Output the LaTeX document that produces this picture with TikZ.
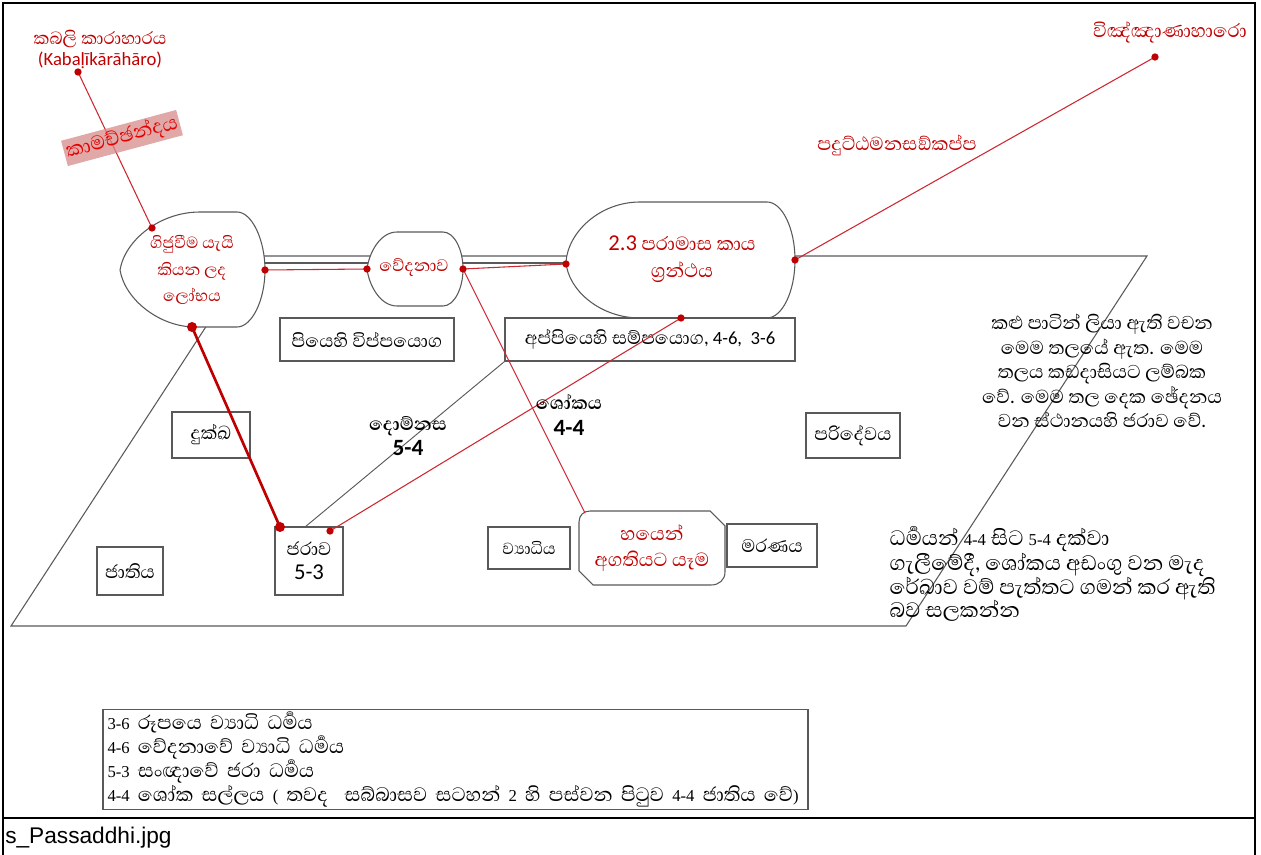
\documentclass[tikz,border=0pt]{standalone}
\usepackage{fontspec}
\setmainfont[Script=Sinhala, Scale=1.4]{Abhaya Libre}
\newfontfamily\latinsans{Carlito}
\newfontfamily\latinserif{Liberation Serif}
\newfontfamily\capfont{Liberation Sans}

\definecolor{lobhared}{RGB}{192,0,0}
\definecolor{linered}{RGB}{205,40,50}
\definecolor{edgegray}{RGB}{89,89,89}
\definecolor{kamafill}{RGB}{214,140,138}
\definecolor{kamatext}{RGB}{230,0,0}

\newcommand{\sdig}[2][14]{{\latinsans\fontsize{#1}{#1}\selectfont #2}}
\newcommand{\rdig}[1]{{\latinserif\fontsize{12.5}{12.5}\selectfont #1}}

\begin{document}
\begin{tikzpicture}[x=0.75pt, y=-0.75pt,
    plane/.style={draw=edgegray, line width=0.8pt},
    bulb/.style={draw=edgegray, line width=0.8pt, fill=white},
    box/.style={draw=edgegray, line width=0.8pt, fill=white, inner sep=2pt,
        align=center, font=\fontsize{12.5}{18}\selectfont},
    redtext/.style={text=lobhared, align=center, inner sep=1pt,
        font=\fontsize{11}{20}\selectfont},
    boldlbl/.style={align=center, inner sep=1pt, font=\fontsize{12.5}{19}\selectfont\bfseries},
    note/.style={align=center, inner sep=1pt, font=\fontsize{12.8}{18.4}\selectfont},
    dot/.style={circle, fill=lobhared, inner sep=0pt, minimum size=5.5pt},
    bigdot/.style={dot, minimum size=7.5pt},
    thinred/.style={draw=linered, line width=0.8pt},
    thickred/.style={draw=lobhared, line width=2pt}]
\useasboundingbox (0,0) rectangle (1261,855);

% frame and file name strip
\draw[line width=1.5pt] (3,860) -- (3,3) -- (1255,3) -- (1255,860);
\draw[line width=1.2pt] (3,818) -- (1255,818);
\node[anchor=west, inner sep=0pt, font=\capfont\fontsize{17}{20}\selectfont] (fname) at (5,838) {s\_Passaddhi.jpg};

% the plane
\draw[plane] (252,256) -- (1147,256) -- (906,626) -- (11,626) -- cycle;
\draw[plane] (262,263) -- (570,263);

% lobha, vedana, paramasa and bhaya shapes
\draw[bulb] (200,212) -- (237,212) .. controls (252,212) and (265,240) .. (265,270)
    .. controls (265,300) and (252,327) .. (237,327) -- (195,327)
    .. controls (160,327) and (125,300) .. (120,270)
    .. controls (125,240) and (160,212) .. (200,212) -- cycle;
\draw[bulb] (397,232) -- (443,232) .. controls (454,232) and (463,249) .. (463,269)
    .. controls (463,289) and (454,306) .. (443,306) -- (397,306)
    .. controls (380,306) and (369,285) .. (367,269)
    .. controls (369,253) and (380,232) .. (397,232) -- cycle;
\draw[bulb] (640,202) -- (767,202) .. controls (782,202) and (795,228) .. (795,260)
    .. controls (795,292) and (782,318) .. (767,318) -- (640,318)
    .. controls (600,318) and (568,290) .. (566,262)
    .. controls (568,232) and (600,202) .. (640,202) -- cycle;
\draw[bulb] (590,511) -- (710,511) -- (725,526) -- (725,572)
    .. controls (725,580) and (719,585) .. (711,585) -- (593,585) -- (579,571) -- (579,522)
    .. controls (579,515) and (584,511) .. (590,511) -- cycle;

\node[redtext] (lobha) at (192,270) {ගිජුවීම යැයි\\කියන ලද\\ලෝභය};
\node[redtext, font=\fontsize{11.5}{20}\selectfont] (vedana) at (414,268) {වේදනාව};
\node[redtext, font=\fontsize{13}{20}\selectfont] (paramasa) at (682,259) {\sdig[17]{2.3} පරාමාස කාය\\ග්^^^^200dරන්ථය};
\node[redtext, font=\fontsize{13}{20}\selectfont] (bhaya) at (652,548) {හයෙන්\\අගතියට යෑම};

% boxes
\node[box, minimum width=130.5pt, minimum height=32.25pt] (piya) at (367,339.5) {පියෙහි විප්පයොග};
\node[box, minimum width=217.5pt, minimum height=32.25pt] (appiya) at (650,339.5) {අප්පියෙහි සම්පයොග, \sdig{4-6,\ \ 3-6}};
\node[box, minimum width=58.5pt, minimum height=34.5pt] (dukkha) at (211,435) {දුක්ඛ};
\node[box, minimum width=49.5pt, minimum height=36pt] (jati) at (130,571) {ජාතිය};
\node[box, minimum width=51pt, minimum height=51pt] (jara) at (309,561) {ජරාව\\\sdig[17]{5-3}};
\node[box, minimum width=61.5pt, minimum height=31.5pt, font=\fontsize{11}{12}\selectfont] (vyadhi) at (529,548) {ව්^^^^200dයාධිය};
\node[box, minimum width=67.5pt, minimum height=32.25pt] (marana) at (772,545.5) {මරණය};
\node[box, minimum width=70.5pt, minimum height=33.75pt] (parideva) at (853,435.5) {පරිදේවය};
\node[box, minimum width=528.75pt, minimum height=72.75pt, text width=522pt, align=left,
    font=\fontsize{13.3}{18}\selectfont] (legend) at (455.5,759.5)
    {\rdig{3-6} රූපයෙ ව්^^^^200dයාධි ධර්^^^^200dමය\\
     \rdig{4-6} වේදනාවේ ව්^^^^200dයාධි ධර්^^^^200dමය\\
     \rdig{5-3} සංඥාවේ ජරා ධර්^^^^200dමය\\
     \rdig{4-4} ශෝක සල්ලය \rdig{(} තවද\ \ සබ්බාසව සටහන් \rdig{2} හි පස්වන පිටුව \rdig{4-4} ජාතිය වේ\rdig{)}};

% points where the lines meet the shapes
\coordinate (kabaliPt) at (78,72);
\coordinate (lobhaTL) at (152,228);
\coordinate (lobhaR) at (265,270);
\coordinate (lobhaB) at (192,327);
\coordinate (vedL) at (367,269);
\coordinate (vedR) at (463,269);
\coordinate (paraL) at (566,264);
\coordinate (paraR) at (795,260);
\coordinate (paraB) at (681,318);
\coordinate (vinnanaPt) at (1155,57);
\coordinate (bhayaTL) at (585,513);
\coordinate (jaraA) at (280,527);
\coordinate (jaraB) at (330,531);
\coordinate (jaraC) at (305,527);

\draw[thinred] (kabaliPt) -- (lobhaTL);
\draw[thinred] (lobhaR) -- (vedL);
\draw[thinred] (vedR) -- (paraL);
\draw[thinred] (paraR) -- (vinnanaPt);
\draw[thinred] (vedR) -- (bhayaTL);
\draw[thinred] (paraB) -- (jaraB);
\draw[thickred] (lobhaB) -- (jaraA);
\draw[edgegray, line width=0.7pt] (jaraC) -- (appiya.south west);

\foreach \p in {kabaliPt, lobhaTL, lobhaR, vedL, vedR, paraL, paraR, paraB, vinnanaPt, jaraB}
    \node[dot] (dot-\p) at (\p) {};
\foreach \p in {lobhaB, jaraA}
    \node[bigdot] (dot-\p) at (\p) {};

% labels
\node[redtext, font=\fontsize{12}{15.75}\selectfont] (kabali) at (100,49)
    {කබලි කාරාහාරය\\\sdig{(Kabaḷīkārāhāro)}};
\node[rotate=15, fill=kamafill, fill opacity=0.75, text opacity=1, text=kamatext,
    inner sep=1.5pt, font=\fontsize{13.5}{16}\selectfont] (kama) at (122,138) {කාමච්ඡන්දය};
\node[redtext, font=\fontsize{13}{16}\selectfont] (vinnana) at (1170,32) {විඤ්ඤාණාහාරො};
\node[redtext, font=\fontsize{12.8}{16}\selectfont] (paduttha) at (897,145) {පදුට්ඨමනසඞ්කප්ප};

\node[boldlbl] (domanassa) at (408,436) {දොම්නස\\{\latinsans\bfseries\fontsize{17.5}{17.5}\selectfont 5-4}};
\node[boldlbl] (soka) at (569,415) {ශෝකය\\{\latinsans\bfseries\fontsize{17.5}{17.5}\selectfont 4-4}};

\node[note] (planenote) at (1102,371)
    {කළු පාටින් ලියා ඇති වචන\\ මෙම තලයේ ඇත. මෙම\\ තලය කඩදාසියට ලම්බක\\
     වේ. මෙම තල දෙක ඡේදනය\\ වන ස්ථානයහි ජරාව වේ.};
\node[note, align=left, anchor=west, font=\fontsize{14.3}{17.25}\selectfont] (flownote) at (888,574)
    {ධර්^^^^200dමයන් \rdig{4-4} සිට \rdig{5-4} දක්වා\\ ගැලීමේදී, ශෝකය අඩංගු වන මැද\\
     රේඛාව වම් පැත්තට ගමන් කර ඇති\\ බව සලකන්න};
\end{tikzpicture}
\end{document}
